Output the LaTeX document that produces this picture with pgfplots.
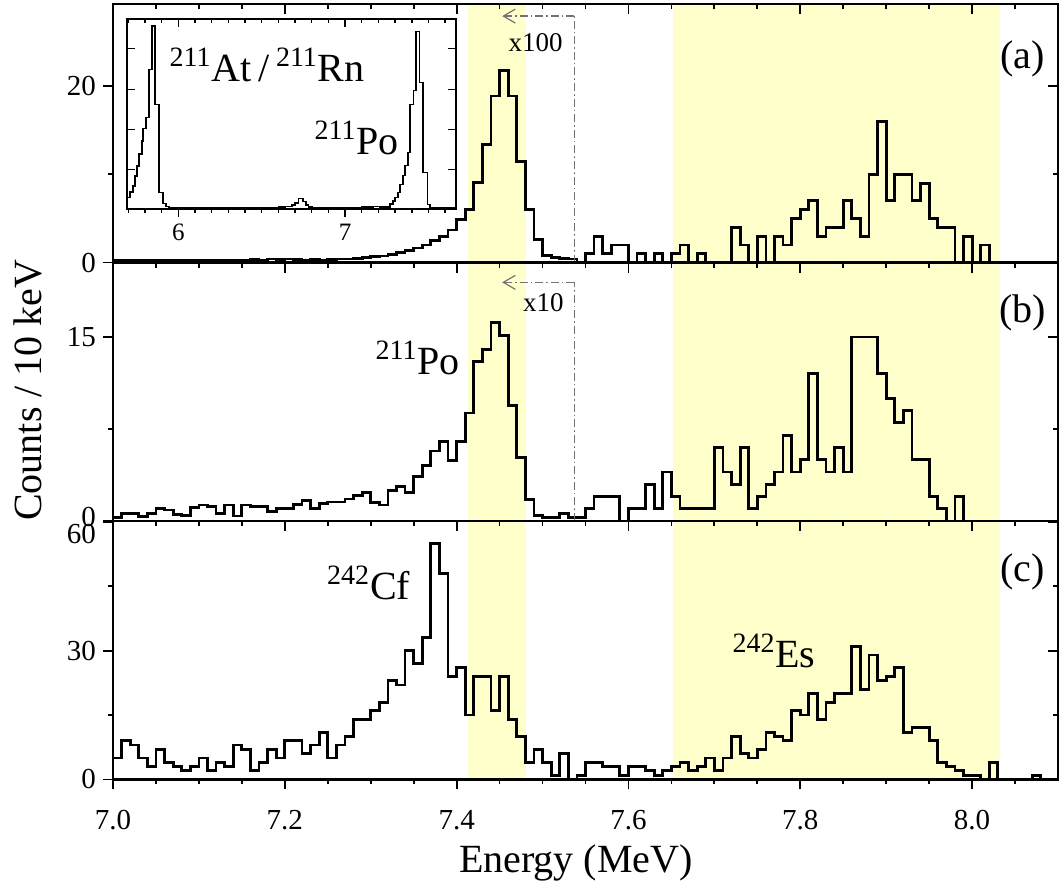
\documentclass[border=0pt]{standalone}
\usepackage{pgfplots}
\pgfplotsset{compat=1.18}
\usepackage{fontspec}
\setmainfont{Liberation Serif}
\usetikzlibrary{arrows.meta}

\definecolor{band}{RGB}{255,255,204}

\pgfplotsset{
  panel/.style={
    scale only axis, width=472.5pt, height=129.2pt,
    xmin=7, xmax=8.1, ymin=0,
    xtick={7.0,7.2,7.4,7.6,7.8,8.0},
    minor xtick={7.05,7.1,7.15,7.25,7.3,7.35,7.45,7.5,7.55,7.65,7.7,7.75,7.85,7.9,7.95,8.05},
    major tick length=5pt, minor tick length=2.5pt,
    tick style={black, line width=0.9pt},
    axis line style={line width=1.3pt},
    tick label style={font=\fontsize{14.5}{16}\selectfont},
    /pgf/number format/assume math mode=true,
  },
  front/.style={panel, tick pos=left, tick align=outside, axis on top},
  back/.style={panel, tick pos=right, tick align=inside, xticklabels={}, yticklabels={}},
  hist/.style={const plot mark left, black, line width=1.4pt, mark=none},
}
\tikzset{
  scaleline/.style={black!55, line width=0.6pt, dash pattern=on 4pt off 1.5pt on 0.8pt off 1.5pt},
  big/.style={font=\fontsize{20}{24}\selectfont},
}

\begin{document}
\begin{tikzpicture}
\useasboundingbox (-56.5pt,-51.3pt) rectangle (475.5pt,389.7pt);

% ---------- panel (a)
\begin{axis}[front, name=pa, at={(0pt,258.4pt)}, anchor=south west,
  ymax=29.3, ytick={0,20}, minor ytick={10}, xticklabels={}]
  \fill[band] (axis cs:7.413,0) rectangle (axis cs:7.481,29.3);
  \fill[band] (axis cs:7.652,0) rectangle (axis cs:8.033,29.3);
  \addplot[hist] coordinates {
    (7.00,0.25)(7.01,0.3)(7.02,0.3)(7.03,0.25)(7.04,0.3)(7.05,0.3)(7.06,0.25)(7.07,0.3)(7.08,0.25)(7.09,0.25)
    (7.10,0.3)(7.11,0.2)(7.12,0.25)(7.13,0.3)(7.14,0.25)(7.15,0.3)(7.16,0.35)(7.17,0.3)(7.18,0.4)(7.19,0.35)
    (7.20,0.4)(7.21,0.35)(7.22,0.3)(7.23,0.35)(7.24,0.3)(7.25,0.35)(7.26,0.4)(7.27,0.4)(7.28,0.5)(7.29,0.55)
    (7.30,0.65)(7.31,0.75)(7.32,0.9)(7.33,1.1)(7.34,1.35)(7.35,1.65)(7.36,2.0)(7.37,2.5)(7.38,3.0)(7.39,3.7)
    (7.40,4.85)(7.41,6.0)(7.42,9.1)(7.43,13.4)(7.44,18.9)(7.45,21.8)(7.46,18.9)(7.47,11.5)(7.48,6.0)(7.49,2.65)
    (7.50,0.83)(7.51,0.57)(7.52,0.45)(7.53,0.4)(7.54,0)(7.55,1)(7.56,3)(7.57,1)(7.58,2)(7.59,2)
    (7.60,0)(7.61,1)(7.62,0)(7.63,1)(7.64,0)(7.65,1)(7.66,2)(7.67,0)(7.68,1)(7.69,0)
    (7.70,0)(7.71,0)(7.72,4)(7.73,2)(7.74,0)(7.75,3)(7.76,0)(7.77,3)(7.78,2)(7.79,5)
    (7.80,6)(7.81,7)(7.82,3)(7.83,4)(7.84,4)(7.85,7)(7.86,5)(7.87,3)(7.88,10)(7.89,16)
    (7.90,7)(7.91,10)(7.92,10)(7.93,7)(7.94,9)(7.95,5)(7.96,4)(7.97,4)(7.98,0)(7.99,3)
    (8.00,0)(8.01,2)(8.02,0)
  };
  \draw[scaleline] (axis cs:7.537,0) -- (axis cs:7.537,27.95);
  \draw[scaleline, -{Straight Barb[length=6pt,width=7pt]}] (axis cs:7.537,27.95) -- (axis cs:7.453,27.95);
  \node[font=\fontsize{13.5}{16}\selectfont] at (axis cs:7.492,24.9) {x100};
  \node[big] at (axis cs:8.059,23.1) {(a)};
\end{axis}
\begin{axis}[back, at={(0pt,258.4pt)}, anchor=south west,
  ymax=29.3, ytick={0,20}, minor ytick={10}]
\end{axis}

% ---------- inset
\begin{axis}[name=inset, at={(6.85pt,285.4pt)}, anchor=south west,
  scale only axis, width=164.65pt, height=95pt,
  xmin=5.69, xmax=7.665, ymin=0, ymax=190,
  xtick={6,7}, minor xtick={5.7,5.8,5.9,6.1,6.2,6.3,6.4,6.5,6.6,6.7,6.8,6.9,7.1,7.2,7.3,7.4,7.5,7.6},
  ytick=\empty, tick pos=left, tick align=outside,
  major tick length=4pt, minor tick length=2pt,
  tick style={black, line width=0.7pt}, axis line style={line width=1pt},
  tick label style={font=\fontsize{12.5}{14}\selectfont},
  /pgf/number format/assume math mode=true,
  axis background/.style={fill=white}, axis on top]
  \addplot[const plot mark left, black, line width=0.9pt, mark=none] coordinates {
    (5.69,11)(5.71,16.7)(5.726,22.7)(5.74,32.7)(5.754,42.7)(5.766,54.3)(5.78,67.7)(5.79,80)(5.806,91)
    (5.826,139)(5.84,182.7)(5.86,104)(5.886,16)(5.906,5)(5.926,2)(5.946,0.8)(5.98,0.6)(6.1,0.5)(6.3,0.6)
    (6.5,0.8)(6.6,1.2)(6.64,2)(6.68,3.5)(6.70,5.5)(6.72,10)(6.745,7)(6.765,3.5)(6.78,1.5)(6.8,1)(6.9,0.8)
    (7.0,1)(7.1,1.2)(7.17,2)(7.21,1.5)(7.25,1.5)(7.27,4.3)(7.285,7.7)(7.30,11)(7.315,16)(7.33,24)
    (7.345,33)(7.36,43)(7.375,56)(7.39,104)(7.41,118)(7.426,177)(7.446,126)(7.466,36)(7.494,4)
    (7.51,1)(7.53,0.5)(7.665,0.5)
  };
  \node[big, anchor=base west] at (axis cs:5.905,127) {\textsuperscript{211}At\,/\,\textsuperscript{211}Rn};
  \node[big, anchor=base east] at (axis cs:7.365,54) {\textsuperscript{211}Po};
\end{axis}
\begin{axis}[at={(6.85pt,285.4pt)}, anchor=south west,
  scale only axis, width=164.65pt, height=95pt,
  xmin=5.69, xmax=7.665, ymin=0, ymax=190,
  xtick={6,7}, minor xtick={5.7,5.8,5.9,6.1,6.2,6.3,6.4,6.5,6.6,6.7,6.8,6.9,7.1,7.2,7.3,7.4,7.5,7.6},
  ytick={39,79,119,160}, xtick pos=right, ytick pos=both, tick align=inside,
  xticklabels={}, yticklabels={},
  major tick length=4pt, minor tick length=2pt,
  tick style={black, line width=0.7pt}, axis line style={line width=1pt}]
\end{axis}

% ---------- panel (b)
\begin{axis}[front, name=pb, at={(0pt,129.2pt)}, anchor=south west,
  ymax=21.06, ytick={0,15}, minor ytick={7.5}, xticklabels={},
  yticklabels={\raisebox{2pt}[\height][\depth]{0},15}]
  \fill[band] (axis cs:7.413,0) rectangle (axis cs:7.481,21.06);
  \fill[band] (axis cs:7.652,0) rectangle (axis cs:8.033,21.06);
  \addplot[hist] coordinates {
    (7.00,0.3)(7.01,0.6)(7.02,0.6)(7.03,0.35)(7.04,0.6)(7.05,1.05)(7.06,0.9)(7.07,0.55)(7.08,0.45)(7.09,1.1)
    (7.10,1.3)(7.11,1.15)(7.12,0.6)(7.13,1.3)(7.14,0.4)(7.15,1.3)(7.16,1.15)(7.17,1.15)(7.18,0.8)(7.19,1.0)
    (7.20,1.0)(7.21,1.35)(7.22,1.7)(7.23,1.0)(7.24,1.4)(7.25,1.55)(7.26,1.55)(7.27,1.8)(7.28,2.1)(7.29,2.35)
    (7.30,1.5)(7.31,1.3)(7.32,2.5)(7.33,2.8)(7.34,2.3)(7.35,3.6)(7.36,4.5)(7.37,5.7)(7.38,6.45)(7.39,4.9)
    (7.40,6.45)(7.41,8.8)(7.42,13.0)(7.43,14.0)(7.44,16.2)(7.45,15.1)(7.46,9.4)(7.47,5.2)(7.48,1.77)(7.49,0.46)
    (7.50,0.27)(7.51,0.27)(7.52,0.6)(7.53,0.27)(7.54,0.27)(7.55,1)(7.56,2)(7.57,2)(7.58,2)(7.59,0)
    (7.60,1)(7.61,1)(7.62,3)(7.63,1)(7.64,4)(7.65,2)(7.66,1)(7.67,1)(7.68,1)(7.69,1)
    (7.70,6)(7.71,4)(7.72,3)(7.73,6)(7.74,1)(7.75,2)(7.76,3)(7.77,4)(7.78,7)(7.79,4)
    (7.80,5)(7.81,12)(7.82,5)(7.83,4)(7.84,6)(7.85,4)(7.86,15)(7.87,15)(7.88,15)(7.89,12)
    (7.90,10)(7.91,8)(7.92,9)(7.93,5)(7.94,5)(7.95,2)(7.96,1)(7.97,0)(7.98,2)(7.99,0)
  };
  \draw[scaleline] (axis cs:7.537,0) -- (axis cs:7.537,19.45);
  \draw[scaleline, -{Straight Barb[length=6pt,width=7pt]}] (axis cs:7.537,19.45) -- (axis cs:7.453,19.45);
  \node[font=\fontsize{13.5}{16}\selectfont] at (axis cs:7.501,17.8) {x10};
  \node[big, anchor=base east] at (axis cs:7.412,11.95) {\textsuperscript{211}Po};
  \node[big] at (axis cs:8.059,17.0) {(b)};
\end{axis}
\begin{axis}[back, at={(0pt,129.2pt)}, anchor=south west,
  ymax=21.06, ytick={0,15}, minor ytick={7.5}]
\end{axis}

% ---------- panel (c)
\begin{axis}[front, name=pc, at={(0pt,0pt)}, anchor=south west,
  ymax=60.2, ytick={0,30,60}, minor ytick={15,45},
  yticklabels={0,30,\raisebox{-6pt}[\height][\depth]{60}},
  xticklabel style={yshift=-7pt, /pgf/number format/.cd, fixed, fixed zerofill, precision=1}]
  \fill[band] (axis cs:7.413,0) rectangle (axis cs:7.481,60.2);
  \fill[band] (axis cs:7.652,0) rectangle (axis cs:8.033,60.2);
  \addplot[hist] coordinates {
    (7.00,5)(7.01,9)(7.02,8)(7.03,5)(7.04,3)(7.05,7)(7.06,4)(7.07,3)(7.08,2)(7.09,3)
    (7.10,5)(7.11,2)(7.12,4)(7.13,3)(7.14,8)(7.15,7)(7.16,2)(7.17,4)(7.18,7)(7.19,5)
    (7.20,9)(7.21,9)(7.22,6)(7.23,8)(7.24,11)(7.25,5)(7.26,8)(7.27,10)(7.28,14)(7.29,14)
    (7.30,16)(7.31,18)(7.32,23)(7.33,22)(7.34,30)(7.35,27)(7.36,33)(7.37,55)(7.38,48)(7.39,24)
    (7.40,26)(7.41,15)(7.42,24)(7.43,24)(7.44,16)(7.45,24)(7.46,14)(7.47,10)(7.48,4)(7.49,7)
    (7.50,4)(7.51,1)(7.52,6)(7.53,0)(7.54,1)(7.55,4)(7.56,4)(7.57,3)(7.58,3)(7.59,1)
    (7.60,3)(7.61,3)(7.62,2)(7.63,1)(7.64,2)(7.65,3)(7.66,4)(7.67,2)(7.68,3)(7.69,5)
    (7.70,2)(7.71,5)(7.72,10)(7.73,6)(7.74,5)(7.75,7)(7.76,11)(7.77,10)(7.78,9)(7.79,16)
    (7.80,15)(7.81,20)(7.82,14)(7.83,18)(7.84,20)(7.85,20)(7.86,31)(7.87,21)(7.88,29)(7.89,23)
    (7.90,24)(7.91,26)(7.92,11)(7.93,12)(7.94,12)(7.95,9)(7.96,4)(7.97,3)(7.98,2)(7.99,1)
    (8.00,1)(8.01,0)(8.02,4)(8.03,0)(8.04,0)(8.05,0)(8.06,0)(8.07,1)(8.08,0)(8.09,0)(8.10,0)
  };
  \node[big, anchor=base east] at (axis cs:7.354,41.9) {\textsuperscript{242}Cf};
  \node[big, anchor=base east] at (axis cs:7.826,26) {\textsuperscript{242}Es};
  \node[big] at (axis cs:8.059,48.4) {(c)};
\end{axis}
\begin{axis}[back, at={(0pt,0pt)}, anchor=south west,
  ymax=60.2, ytick={0,30,60}, minor ytick={15,45}]
\end{axis}

\node[big, rotate=90] at (-42.5pt,194.6pt) {Counts / 10 keV};
\node[big, anchor=base] at (231.5pt,-46.3pt) {Energy (MeV)};
\end{tikzpicture}
\end{document}
